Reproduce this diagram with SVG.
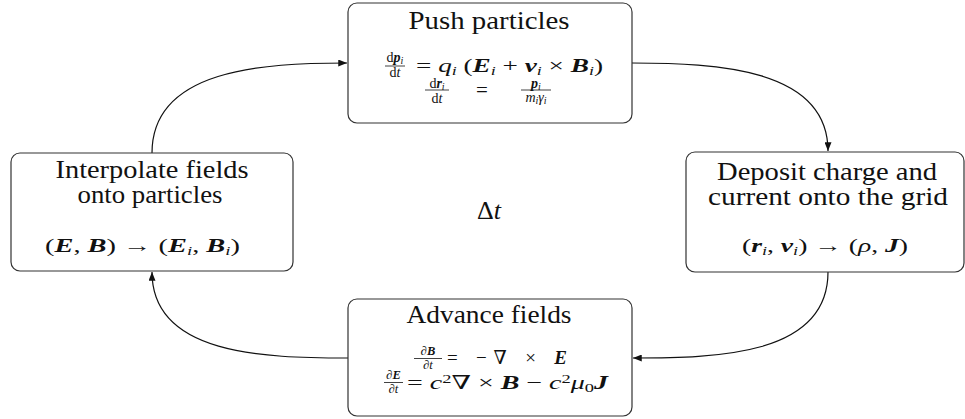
<svg xmlns="http://www.w3.org/2000/svg" width="965" height="419" viewBox="0 0 965 419">
<defs>
<marker id="ah" viewBox="0 0 10 8" refX="10" refY="4" markerWidth="9" markerHeight="7" markerUnits="userSpaceOnUse" orient="auto">
<path d="M0,0 L10,4 L0,8 Z" fill="#111"/>
</marker>
<style>
.box{fill:#fff;stroke:#333;stroke-width:1.2}
.t{font-family:"Liberation Serif","DejaVu Serif","Times New Roman",serif;fill:#111}
.ti{font-size:25px;text-anchor:middle}
.m{font-size:19px}
.f{font-size:14px;text-anchor:middle}
.fs{font-size:12.5px;text-anchor:middle}
.i{font-style:italic}
.v{font-style:italic;font-weight:bold}
.sb{font-size:12.5px;font-style:italic}
.sb2{font-size:10px;font-style:italic}
.sp{font-size:12.5px}
.fl{stroke:#111;stroke-width:0.8}
.c{fill:none;stroke:#111;stroke-width:1.2;marker-end:url(#ah)}
</style>
</defs>
<rect width="965" height="419" fill="#fff"/>

<g id="connectors">
<path class="c" d="M152,153 C152,69 263,63 347,63"/>
<path class="c" d="M632,63 C716,63 828,68 828,151"/>
<path class="c" d="M828,272 C828,356 716,358 633,358"/>
<path class="c" d="M348,358 C264,358 152,355 152,272"/>
</g>

<g id="push">
<rect class="box" x="348" y="3" width="284" height="120" rx="9"/>
<text class="t ti" x="489" y="29" textLength="161" lengthAdjust="spacingAndGlyphs">Push particles</text>
<text class="t f" x="395" y="62">d<tspan class="v">p</tspan><tspan class="sb2" dy="2">i</tspan></text>
<line class="fl" x1="385" x2="405" y1="66" y2="66"/>
<text class="t f" x="395" y="77">d<tspan class="i">t</tspan></text>
<text class="t m" x="416" y="71.5" textLength="187" lengthAdjust="spacingAndGlyphs">= <tspan class="i">q</tspan><tspan class="sb" dy="3">i</tspan><tspan dy="-3"> (</tspan><tspan class="v">E</tspan><tspan class="sb" dy="3">i</tspan><tspan dy="-3"> + </tspan><tspan class="v">v</tspan><tspan class="sb" dy="3">i</tspan><tspan dy="-3"> × </tspan><tspan class="v">B</tspan><tspan class="sb" dy="3">i</tspan><tspan dy="-3">)</tspan></text>
<text class="t f" x="437" y="87.5">d<tspan class="v">r</tspan><tspan class="sb2" dy="2">i</tspan></text>
<line class="fl" x1="425" x2="449" y1="90" y2="90"/>
<text class="t f" x="437" y="102.5">d<tspan class="i">t</tspan></text>
<text class="t" x="482" y="96.5" font-size="21" text-anchor="middle">=</text>
<text class="t f" x="536" y="87.5"><tspan class="v">p</tspan><tspan class="sb2" dy="2">i</tspan></text>
<line class="fl" x1="521" x2="551" y1="90" y2="90"/>
<text class="t f" x="536" y="102"><tspan class="i">m</tspan><tspan class="sb2" dy="2">i</tspan><tspan class="i" dy="-2">γ</tspan><tspan class="sb2" dy="2">i</tspan></text>
</g>

<g id="deposit">
<rect class="box" x="686" y="152" width="278" height="120" rx="9"/>
<text class="t ti" x="827" y="180" textLength="220" lengthAdjust="spacingAndGlyphs">Deposit charge and</text>
<text class="t ti" x="828" y="205" textLength="240" lengthAdjust="spacingAndGlyphs">current onto the grid</text>
<text class="t m" x="742" y="252" textLength="166" lengthAdjust="spacingAndGlyphs">(<tspan class="v">r</tspan><tspan class="sb" dy="3">i</tspan><tspan dy="-3">, </tspan><tspan class="v">v</tspan><tspan class="sb" dy="3">i</tspan><tspan dy="-3">)  →  (</tspan><tspan class="i">ρ</tspan>, <tspan class="v">J</tspan>)</text>
</g>

<g id="advance">
<rect class="box" x="348" y="299" width="284" height="117" rx="9"/>
<text class="t ti" x="489" y="323" textLength="165" lengthAdjust="spacingAndGlyphs">Advance fields</text>
<text class="t fs" x="428" y="355">∂<tspan class="v">B</tspan></text>
<line class="fl" x1="414" x2="442" y1="358.5" y2="358.5"/>
<text class="t fs" x="428" y="369">∂<tspan class="i">t</tspan></text>
<text class="t m" x="447" y="363.5" textLength="120" lengthAdjust="spacing">=  −∇ ×  <tspan class="v">E</tspan></text>
<text class="t fs" x="393.5" y="379">∂<tspan class="v">E</tspan></text>
<line class="fl" x1="384" x2="403" y1="382.5" y2="382.5"/>
<text class="t fs" x="393.5" y="393">∂<tspan class="i">t</tspan></text>
<text class="t m" x="407" y="389" textLength="201" lengthAdjust="spacingAndGlyphs">= <tspan class="i">c</tspan><tspan class="sp" dy="-6">2</tspan><tspan dy="6">∇ × </tspan><tspan class="v">B</tspan> − <tspan class="i">c</tspan><tspan class="sp" dy="-6">2</tspan><tspan class="i" dy="6">μ</tspan><tspan class="sp" dy="3">0</tspan><tspan class="v" dy="-3">J</tspan></text>
</g>

<g id="interpolate">
<rect class="box" x="11" y="153" width="282" height="118" rx="9"/>
<text class="t ti" x="152" y="178" textLength="193" lengthAdjust="spacingAndGlyphs">Interpolate fields</text>
<text class="t ti" x="150" y="203" textLength="145" lengthAdjust="spacingAndGlyphs">onto particles</text>
<text class="t m" x="45" y="252" textLength="195" lengthAdjust="spacingAndGlyphs">(<tspan class="v">E</tspan>, <tspan class="v">B</tspan>)  →  (<tspan class="v">E</tspan><tspan class="sb" dy="3">i</tspan><tspan dy="-3">, </tspan><tspan class="v">B</tspan><tspan class="sb" dy="3">i</tspan><tspan dy="-3">)</tspan></text>
</g>

<g id="dt">
<text class="t" x="489" y="219" font-size="26" text-anchor="middle">Δ<tspan class="i">t</tspan></text>
</g>
</svg>
